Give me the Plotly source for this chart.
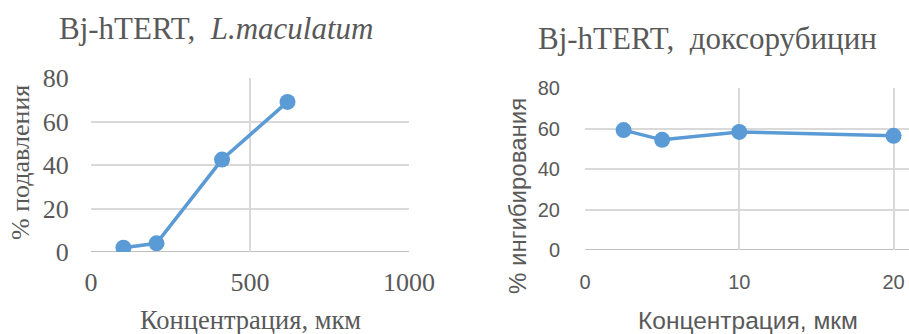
import plotly.graph_objects as go

# Left chart data (L.maculatum)
conc_left = [102, 206, 412, 618]
inhib_left = [2.0, 4.0, 42.5, 69.0]
# Right chart data (doxorubicin)
conc_right = [2.5, 5, 10, 20]
inhib_right = [59.2, 54.4, 58.3, 56.4]

title_left = "Bj-hTERT,  <i>L.maculatum</i>"
title_right = "Bj-hTERT,  доксорубицин"
xtitle = "Концентрация, мкм"
ytitle_left = "% подавления"
ytitle_right = "% ингибирования"

BLUE = "#5B9BD5"
GRID = "#D9D9D9"
TXT = "#595959"
SERIF = "Liberation Serif"
SANS = "Liberation Sans"
W, H = 909, 334

fig = go.Figure()
fig.add_trace(go.Scatter(x=conc_left, y=inhib_left, mode="lines+markers",
                         line=dict(color=BLUE, width=3.5),
                         marker=dict(color=BLUE, size=16),
                         xaxis="x", yaxis="y", showlegend=False))
fig.add_trace(go.Scatter(x=conc_right, y=inhib_right, mode="lines+markers",
                         line=dict(color=BLUE, width=3.5),
                         marker=dict(color=BLUE, size=16),
                         xaxis="x2", yaxis="y2", showlegend=False))

def px(v):
    return v / W

def py(v):
    return 1 - v / H

common = dict(showgrid=True, gridcolor=GRID, gridwidth=1.5, zeroline=False,
              showline=False, ticks="outside", tickcolor="rgba(0,0,0,0)",
              automargin=False)

fig.update_layout(
    width=W, height=H,
    margin=dict(l=0, r=0, t=0, b=0, pad=0),
    paper_bgcolor="white", plot_bgcolor="white",
    xaxis=dict(domain=[px(91), px(409)], range=[0, 1000], tickvals=[0, 500, 1000],
               anchor="y", ticklen=7, tickfont=dict(family=SERIF, size=26, color=TXT),
               **common),
    yaxis=dict(domain=[py(252), py(78)], range=[0, 80], tickvals=[0, 20, 40, 60, 80],
               anchor="x", ticklen=16, tickfont=dict(family=SERIF, size=26, color=TXT),
               **common),
    xaxis2=dict(domain=[px(585), 1.0], range=[0, 21.0], tickvals=[0, 10, 20],
                anchor="y2", ticklen=14, tickfont=dict(family=SANS, size=20, color=TXT),
                **common),
    yaxis2=dict(domain=[py(250), py(88)], range=[0, 80], tickvals=[0, 20, 40, 60, 80],
                anchor="x2", ticklen=20, tickfont=dict(family=SANS, size=20, color=TXT),
                **common),
)

# bottom axis lines (slightly darker)
for xr, yr, xa, xb in [("x", "y", 0, 1000), ("x2", "y2", 0, 21.0)]:
    fig.add_shape(type="line", xref=xr, yref=yr, x0=xa, x1=xb, y0=0, y1=0,
                  line=dict(color="#BFBFBF", width=2), layer="below")

ann = [
    dict(text=title_left, x=px(216), y=py(28), font=dict(family=SERIF, size=31, color=TXT)),
    dict(text=title_right, x=px(707), y=py(38), font=dict(family=SERIF, size=31, color=TXT)),
    dict(text=xtitle, x=px(250), y=py(320), font=dict(family=SERIF, size=26.5, color=TXT)),
    dict(text=xtitle, x=px(748), y=py(320), font=dict(family=SANS, size=24.5, color=TXT)),
    dict(text=ytitle_left, x=px(20), y=py(163), textangle=-90, font=dict(family=SERIF, size=26, color=TXT)),
    dict(text=ytitle_right, x=px(517), y=py(196), textangle=-90, font=dict(family=SANS, size=24, color=TXT)),
]
for a in ann:
    fig.add_annotation(xref="paper", yref="paper", xanchor="center", yanchor="middle",
                       showarrow=False, **a)

fig.write_html("out.html", config={"displayModeBar": False},
               post_script="document.body.style.margin='0';document.body.style.overflow='hidden';")
